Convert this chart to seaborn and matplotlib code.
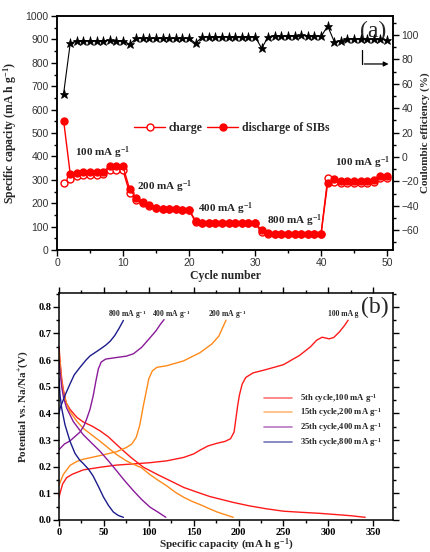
import numpy as np
import pandas as pd
import matplotlib
matplotlib.use('Agg')
import matplotlib.pyplot as plt
import seaborn as sns
from matplotlib.ticker import MultipleLocator
from matplotlib.lines import Line2D

sns.set_theme(style='ticks')
plt.rcParams['font.family'] = ['Liberation Serif', 'DejaVu Serif']
plt.rcParams['mathtext.fontset'] = 'custom'
plt.rcParams['mathtext.rm'] = 'Liberation Serif'
plt.rcParams['mathtext.it'] = 'Liberation Serif:italic'
plt.rcParams['mathtext.bf'] = 'Liberation Serif:bold'

# ---------------- data (a) ----------------
cycles = list(range(1, 51))
discharge = [553, 325, 330, 334, 334, 334, 335, 358, 359, 357,
             260, 221, 205, 192, 181, 177, 176, 175, 173, 172,
             125, 117, 116, 116, 116, 116, 116, 116, 116, 116,
             85, 72, 70, 70, 70, 70, 70, 70, 70, 70,
             286, 302, 297, 295, 293, 293, 295, 298, 316, 316]
charge = [287, 304, 318, 322, 322, 322, 325, 340, 342, 340,
          243, 215, 203, 190, 180, 176, 175, 174, 172, 171,
          118, 115, 115, 115, 115, 115, 115, 115, 115, 115,
          75, 70, 69, 69, 69, 69, 69, 69, 69, 69,
          306, 290, 287, 287, 287, 287, 288, 289, 307, 307]
efficiency = [52, 93.2, 95.4, 95.4, 95.4, 95.4, 95.4, 95.6, 95.4, 95.4,
              92.4, 97.3, 97.3, 97.3, 97.3, 97.3, 97.3, 97.3, 97.3, 97.3,
              93.2, 98.6, 98.6, 98.6, 98.6, 98.6, 98.6, 98.6, 98.6, 98.6,
              89.2, 98.6, 99.5, 98.8, 99.5, 99.5, 99.7, 99.5, 99.5, 98.8,
              107.3, 94.6, 95.4, 97.0, 97.0, 97.0, 97.0, 96.7, 96.7, 95.8]
rate_labels = ['100 mA g$^{\\mathbf{-1}}$', '200 mA g$^{\\mathbf{-1}}$',
               '400 mA g$^{\\mathbf{-1}}$', '800 mA g$^{\\mathbf{-1}}$',
               '100 mA g$^{\\mathbf{-1}}$']
rate_label_x = [2.7, 12.1, 21.4, 31.8, 42.1]
rate_label_y = [415, 270, 175, 125, 372]

# ---------------- data (b) ----------------
red_chg_c = [0, 1.1, 4, 8.5, 15, 27, 46, 64, 85, 101, 120, 139, 150, 157, 166, 176, 185, 191, 195, 197, 199, 201, 204, 208, 216, 231, 250, 268, 280, 287, 293, 297, 301, 306, 312, 318, 322]
red_chg_v = [0.085, 0.10, 0.135, 0.159, 0.172, 0.188, 0.198, 0.206, 0.211, 0.215, 0.222, 0.235, 0.248, 0.262, 0.278, 0.288, 0.295, 0.305, 0.33, 0.38, 0.43, 0.47, 0.51, 0.535, 0.552, 0.565, 0.583, 0.618, 0.650, 0.675, 0.686, 0.683, 0.680, 0.685, 0.705, 0.730, 0.750]
red_dis_c = [0, 1.1, 3, 4.8, 8, 12.3, 20, 27, 37, 46, 55, 62, 70, 80, 94, 110, 124, 139, 155, 168, 181, 194, 212, 231, 250, 269, 290, 306, 325, 341]
red_dis_v = [0.65, 0.60, 0.53, 0.49, 0.44, 0.415, 0.385, 0.368, 0.352, 0.334, 0.312, 0.29, 0.265, 0.235, 0.198, 0.17, 0.147, 0.122, 0.103, 0.088, 0.077, 0.066, 0.053, 0.042, 0.033, 0.029, 0.025, 0.021, 0.016, 0.01]
org_chg_c = [0, 1.1, 4.8, 12.3, 20, 27, 46, 64, 75, 81, 86, 90, 94, 97.6, 100, 104, 109, 120, 138.6, 157, 170, 178, 186]
org_chg_v = [0.13, 0.14, 0.171, 0.205, 0.22, 0.228, 0.242, 0.256, 0.272, 0.285, 0.31, 0.357, 0.43, 0.49, 0.53, 0.56, 0.573, 0.579, 0.597, 0.628, 0.66, 0.69, 0.75]
org_dis_c = [0, 1.1, 3, 4.8, 8.5, 12.3, 20, 27, 37, 46, 55, 64, 75, 83, 92, 101, 110, 120, 130, 139, 148, 157, 167, 176, 185, 194]
org_dis_v = [0.63, 0.59, 0.52, 0.48, 0.435, 0.406, 0.37, 0.344, 0.318, 0.295, 0.27, 0.246, 0.222, 0.209, 0.196, 0.171, 0.15, 0.128, 0.103, 0.085, 0.07, 0.058, 0.043, 0.03, 0.02, 0.01]
pur_chg_c = [0, 1.1, 6, 12.3, 23.4, 28, 31, 34.5, 38.2, 41, 43.8, 47, 52, 64.3, 75, 83, 92, 101.4, 108, 113, 117]
pur_chg_v = [0.264, 0.268, 0.285, 0.297, 0.33, 0.355, 0.381, 0.415, 0.468, 0.52, 0.567, 0.593, 0.604, 0.61, 0.615, 0.624, 0.648, 0.684, 0.71, 0.735, 0.752]
pur_dis_c = [0, 1.1, 3, 5, 8.5, 16, 27, 36, 45.7, 55, 64.3, 73, 82.8, 92, 101.4, 110, 119]
pur_dis_v = [0.60, 0.56, 0.50, 0.46, 0.42, 0.369, 0.32, 0.29, 0.258, 0.222, 0.184, 0.148, 0.11, 0.077, 0.048, 0.03, 0.01]
blu_chg_c = [0, 1.1, 6.7, 12.3, 17, 23.4, 30, 34.6, 40, 45.7, 52, 57, 62, 67, 71.7]
blu_chg_v = [0.40, 0.419, 0.468, 0.511, 0.545, 0.573, 0.60, 0.616, 0.628, 0.641, 0.656, 0.671, 0.692, 0.72, 0.749]
blu_dis_c = [0, 1.1, 3, 6.7, 12.3, 17.8, 23, 27, 33, 38, 44, 49.4, 55, 60.5, 66, 71.7]
blu_dis_v = [0.53, 0.47, 0.419, 0.357, 0.295, 0.25, 0.225, 0.212, 0.19, 0.165, 0.125, 0.087, 0.055, 0.03, 0.017, 0.01]

curve_names = ['5th cycle,100 mA g$^{\\mathbf{-1}}$', '15th cycle,200 mA g$^{\\mathbf{-1}}$',
               '25th cycle,400 mA g$^{\\mathbf{-1}}$', '35th cycle,800 mA g$^{\\mathbf{-1}}$']
curve_colors = ['#FF1A1A', '#FF8A1A', '#8A1A9A', '#1C1C8C']
curve_rate_text = ['100 mA g', '200 mA g$^{\\mathbf{-1}}$', '400 mA g$^{\\mathbf{-1}}$', '800 mA g$^{\\mathbf{-1}}$']
curve_text_x = [300, 166, 103.7, 54.6]

# ---------------- figure ----------------
fig = plt.figure(figsize=(4.31, 5.52), dpi=100)
ax1 = fig.add_axes([0.1323, 0.5471, 0.7796, 0.4239])
ax1r = ax1.twinx()
ax2 = fig.add_axes([0.1369, 0.058, 0.775, 0.4112])

dfa = pd.DataFrame({'cycle': cycles, 'charge': charge, 'discharge': discharge, 'ce': efficiency})

sns.lineplot(data=dfa, x='cycle', y='charge', ax=ax1, color='#FF0000', marker='o',
             markersize=5, markerfacecolor='white', markeredgecolor='#FF0000',
             markeredgewidth=1.0, linewidth=1.0, sort=False)
sns.lineplot(data=dfa, x='cycle', y='discharge', ax=ax1, color='#FF0000', marker='o',
             markersize=5, markerfacecolor='#FF0000', markeredgecolor='#FF0000',
             markeredgewidth=1.0, linewidth=1.0, sort=False)
sns.lineplot(data=dfa, x='cycle', y='ce', ax=ax1r, color='black', marker='*',
             markersize=6.5, markerfacecolor='black', markeredgecolor='black',
             markeredgewidth=0.5, linewidth=0.8, sort=False)

ax1.set_xlim(0, 50.9)
ax1.set_ylim(0, 1000)
ax1r.set_ylim(-76.3, 115.6)
ax1.xaxis.set_major_locator(MultipleLocator(10))
ax1.xaxis.set_minor_locator(MultipleLocator(5))
ax1.yaxis.set_major_locator(MultipleLocator(100))
ax1.yaxis.set_minor_locator(MultipleLocator(50))
ax1r.yaxis.set_major_locator(MultipleLocator(20))
ax1r.yaxis.set_minor_locator(MultipleLocator(10))
for a in (ax1, ax1r):
    a.tick_params(which='both', direction='out', width=1.0, colors='black',
                  labelcolor='#333333', labelsize=7.5, labelfontfamily='Liberation Sans', pad=2)
    a.tick_params(which='major', length=4)
    a.tick_params(which='minor', length=2)
    for s in a.spines.values():
        s.set_linewidth(1.1)
        s.set_color('black')
        s.set_visible(True)
ax1r.set_yticks([-60, -40, -20, 0, 20, 40, 60, 80, 100])

lab_font = dict(fontweight='bold', fontsize=8.5, family='Liberation Serif')
ax1.set_xlabel('Cycle number', labelpad=1, **lab_font)
ax1.set_ylabel('Specific capacity (mA h g$^{\\mathbf{-1}}$)', labelpad=5, **lab_font)
ax1r.set_ylabel('Coulombic efficiency (%)', labelpad=1, fontweight='bold', fontsize=8,
                family='Liberation Serif')

for t, x, y in zip(rate_labels, rate_label_x, rate_label_y):
    ax1.text(x, y, t, fontsize=8, fontweight='bold', ha='left', va='center')

handles = [Line2D([], [], color='#FF0000', marker='o', markersize=5, markerfacecolor='white',
                  markeredgecolor='#FF0000', linewidth=1.0),
           Line2D([], [], color='#FF0000', marker='o', markersize=5, markerfacecolor='#FF0000',
                  markeredgecolor='#FF0000', linewidth=1.0)]
ax1.legend(handles=handles, labels=['charge', 'discharge of SIBs'], ncol=2, frameon=False,
           loc='center', bbox_to_anchor=(0.52, 0.522), handlelength=2.6, handletextpad=0.3,
           columnspacing=0.4, prop=dict(weight='bold', size=8.5, family='Liberation Serif'))

ax1.text(0.94, 0.936, '(a)', transform=ax1.transAxes, fontsize=17, ha='center', va='center')
ax1.plot([0.908, 0.908], [0.855, 0.795], transform=ax1.transAxes, color='black', lw=0.9)
ax1.annotate('', xy=(0.995, 0.795), xytext=(0.906, 0.795), xycoords='axes fraction',
             arrowprops=dict(arrowstyle='-|>', color='black', lw=0.9, mutation_scale=7))

# ---------------- (b) ----------------
curves = [(red_chg_c, red_chg_v, red_dis_c, red_dis_v),
          (org_chg_c, org_chg_v, org_dis_c, org_dis_v),
          (pur_chg_c, pur_chg_v, pur_dis_c, pur_dis_v),
          (blu_chg_c, blu_chg_v, blu_dis_c, blu_dis_v)]
legend_handles = []
for (cc, cv, dc, dv), col, name in zip(curves, curve_colors, curve_names):
    sns.lineplot(x=cc, y=cv, ax=ax2, color=col, linewidth=1.0, sort=False)
    sns.lineplot(x=dc, y=dv, ax=ax2, color=col, linewidth=1.0, sort=False)
    legend_handles.append(Line2D([], [], color=col, linewidth=1.2, alpha=0.6))

for t, x in zip(curve_rate_text, curve_text_x):
    ax2.text(x, 0.772, t, fontsize=5.5, fontweight='bold', ha='left', va='center')
ax2.text(352, 0.796, '(b)', fontsize=17, ha='center', va='center')

ax2.legend(handles=legend_handles, labels=curve_names, frameon=False, loc='upper right',
           bbox_to_anchor=(0.99, 0.6), handlelength=3.3, handletextpad=0.9, labelspacing=0.2,
           prop=dict(weight='bold', size=6.2, family='Liberation Serif'))

ax2.set_xlim(0, 372)
ax2.set_ylim(0, 0.852)
ax2.xaxis.set_major_locator(MultipleLocator(50))
ax2.xaxis.set_minor_locator(MultipleLocator(25))
ax2.yaxis.set_major_locator(MultipleLocator(0.1))
ax2.yaxis.set_minor_locator(MultipleLocator(0.05))
ax2.tick_params(which='both', direction='out', top=True, right=True, width=1.0,
                colors='black', labelsize=7.5, pad=1.5)
ax2.tick_params(which='major', length=4)
ax2.tick_params(which='minor', length=2)
for s in ax2.spines.values():
    s.set_linewidth(1.1)
    s.set_color('black')
    s.set_visible(True)
ax2.set_xticks([0, 50, 100, 150, 200, 250, 300, 350])
ax2.set_xticklabels(['0', '50', '100', '150', '200', '250', '300', '350'], fontweight='bold')
ax2.set_yticks([0.0, 0.1, 0.2, 0.3, 0.4, 0.5, 0.6, 0.7, 0.8])
ax2.set_yticklabels(['0.0', '0.1', '0.2', '0.3', '0.4', '0.5', '0.6', '0.7', '0.8'], fontweight='bold')
ax2.set_xlabel('Specific capacity (mA h g$^{\\mathbf{-1}}$)', labelpad=0.5,
               fontweight='bold', fontsize=8)
ax2.set_ylabel('Potential vs. Na/Na$^{\\mathbf{+}}$(V)', labelpad=5, fontweight='bold', fontsize=8)

fig.savefig('out.png', dpi=100)
